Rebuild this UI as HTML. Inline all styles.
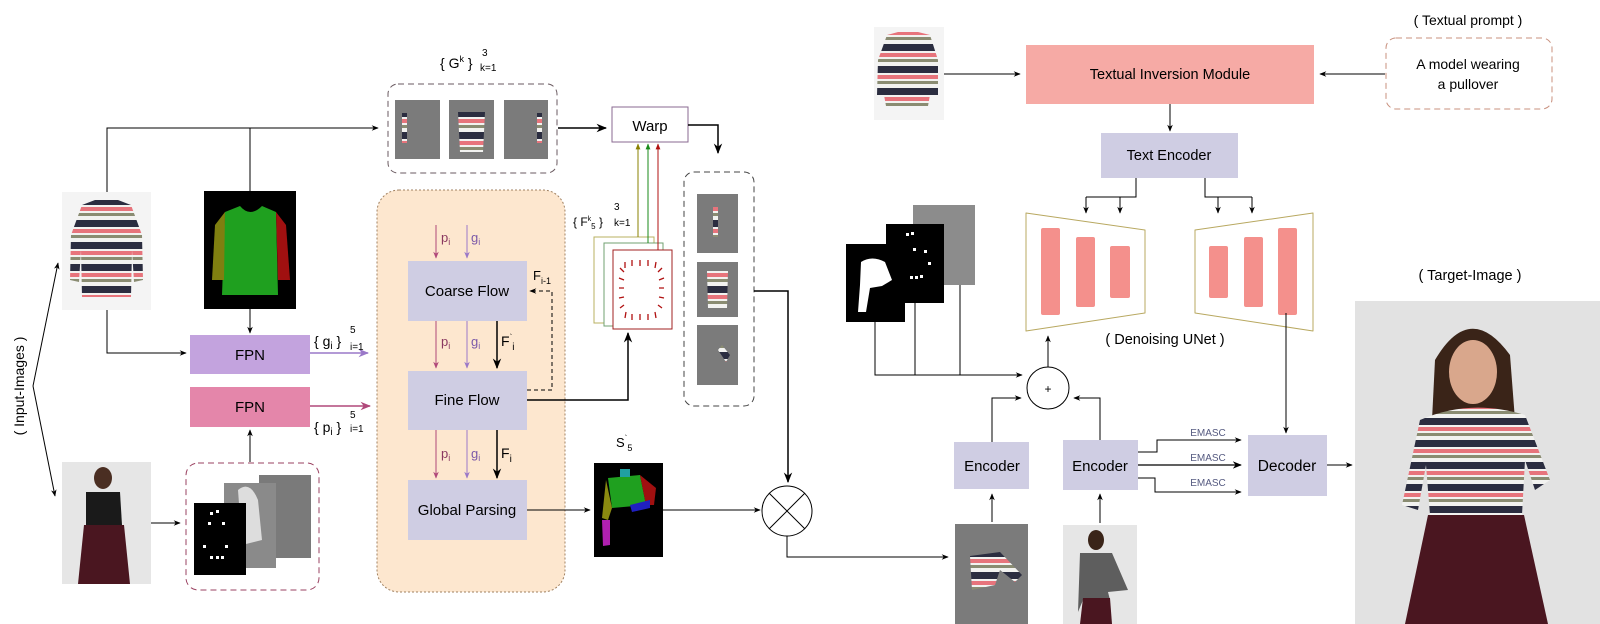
<!DOCTYPE html>
<html><head><meta charset="utf-8"><style>
body{margin:0;background:#fff;}
svg{display:block;font-family:"Liberation Sans",sans-serif;}
</style></head><body>
<svg width="1600" height="624" viewBox="0 0 1600 624" xmlns="http://www.w3.org/2000/svg">
<defs>
<marker id="a" viewBox="0 0 10 10" refX="9" refY="5" markerWidth="7" markerHeight="7" orient="auto"><path d="M0,1 L10,5 L0,9 L3,5z" fill="#000"/></marker>
<marker id="ap" viewBox="0 0 10 10" refX="9" refY="5" markerWidth="7" markerHeight="7" orient="auto"><path d="M0,1 L10,5 L0,9 L3,5z" fill="#9a78c8"/></marker>
<marker id="ak" viewBox="0 0 10 10" refX="9" refY="5" markerWidth="7" markerHeight="7" orient="auto"><path d="M0,1 L10,5 L0,9 L3,5z" fill="#b0487a"/></marker>
<marker id="ay" viewBox="0 0 10 10" refX="9" refY="5" markerWidth="6" markerHeight="6" orient="auto"><path d="M0,1 L10,5 L0,9z" fill="#8a8000"/></marker>
<marker id="ag" viewBox="0 0 10 10" refX="9" refY="5" markerWidth="6" markerHeight="6" orient="auto"><path d="M0,1 L10,5 L0,9z" fill="#1a8a1a"/></marker>
<marker id="ar" viewBox="0 0 10 10" refX="9" refY="5" markerWidth="6" markerHeight="6" orient="auto"><path d="M0,1 L10,5 L0,9z" fill="#b01010"/></marker>
<pattern id="st" patternUnits="userSpaceOnUse" width="10" height="22">
<rect width="10" height="22" fill="#f2f2f0"/><rect width="10" height="7" fill="#2b2d40"/><rect y="9" width="10" height="4" fill="#e7747c"/><rect y="15" width="10" height="3" fill="#8a8c72"/>
</pattern>
</defs>

<text transform="translate(24,386) rotate(-90)" text-anchor="middle" font-size="14">( Input-Images )</text>
<path d="M33,386 L58,263" stroke="#000" fill="none" marker-end="url(#a)"/>
<path d="M33,386 L55,496" stroke="#000" fill="none" marker-end="url(#a)"/>

<rect x="62" y="192" width="89" height="118" fill="#f4f4f4"/>
<path d="M82,205 L95,200 L118,200 L131,205 L142,235 L143,280 L134,282 L132,250 L131,297 L82,297 L81,250 L79,282 L70,280 L71,235z" fill="url(#st)"/>
<rect x="204" y="191" width="92" height="118" fill="#000"/>
<path d="M225,212 L240,206 Q250,218 262,206 L276,212 L278,295 L222,295z" fill="#1fa01f"/>
<path d="M225,212 L215,225 L212,280 L224,280z" fill="#7f7f10"/>
<path d="M276,212 L286,225 L290,280 L278,280z" fill="#a01010"/>
<rect x="62" y="462" width="89" height="122" fill="#e6e6e6"/>
<ellipse cx="103" cy="478" rx="9" ry="11" fill="#4a2e22"/>
<path d="M86,492 L120,492 L122,525 L86,525z" fill="#1a1a1a"/>
<path d="M84,525 L124,525 L130,584 L78,584z" fill="#4a1620"/>
<rect x="186" y="463" width="133" height="127" rx="12" fill="none" stroke="#9a4060" stroke-dasharray="6,4"/>
<rect x="259" y="475" width="52" height="83" fill="#7a7a7a"/>
<rect x="224" y="483" width="52" height="85" fill="#8a8a8a"/>
<path d="M238,490 Q250,480 258,500 L262,540 L242,545z" fill="#ddd"/>
<rect x="194" y="503" width="52" height="72" fill="#000"/>
<g fill="#fff"><rect x="210" y="512" width="3" height="3"/><rect x="216" y="510" width="3" height="3"/><rect x="208" y="522" width="3" height="3"/><rect x="222" y="522" width="3" height="3"/><rect x="203" y="545" width="3" height="3"/><rect x="225" y="545" width="3" height="3"/><rect x="210" y="556" width="3" height="3"/><rect x="216" y="556" width="3" height="3"/><rect x="221" y="556" width="3" height="3"/></g>

<rect x="190" y="335" width="120" height="39" fill="#c3a3de"/>
<text x="250" y="360" text-anchor="middle" font-size="15">FPN</text>
<rect x="190" y="387" width="120" height="40" fill="#e486aa"/>
<text x="250" y="412" text-anchor="middle" font-size="15">FPN</text>
<path d="M310,353 L368,353" stroke="#9a78c8" stroke-width="1.5" marker-end="url(#ap)"/>
<path d="M310,406 L370,406" stroke="#b0487a" stroke-width="1.5" marker-end="url(#ak)"/>
<text x="314" y="346" font-size="14">{ g<tspan font-size="10" dy="3">i</tspan><tspan dy="-3"> }</tspan></text>
<text x="350" y="333" font-size="10">5</text><text x="350" y="350" font-size="10">i=1</text>
<text x="314" y="432" font-size="14">{ p<tspan font-size="10" dy="3">i</tspan><tspan dy="-3"> }</tspan></text>
<text x="350" y="418" font-size="10">5</text><text x="350" y="432" font-size="10">i=1</text>

<path d="M107,192 L107,128 L378,128" stroke="#000" fill="none" marker-end="url(#a)"/>
<path d="M250,191 L250,128" stroke="#000" fill="none"/>
<path d="M107,310 L107,353 L186,353" stroke="#000" fill="none" marker-end="url(#a)"/>
<path d="M250,309 L250,333" stroke="#000" fill="none" marker-end="url(#a)"/>
<path d="M250,462 L250,430" stroke="#000" fill="none" marker-end="url(#a)"/>
<path d="M151,523 L180,523" stroke="#000" fill="none" marker-end="url(#a)"/>

<text x="440" y="68" font-size="14">{ G<tspan font-size="9" dy="-6">k</tspan><tspan dy="6"> }</tspan></text>
<text x="482" y="56" font-size="10">3</text><text x="480" y="71" font-size="10">k=1</text>
<rect x="388" y="84" width="169" height="89" rx="10" fill="none" stroke="#6a5a60" stroke-dasharray="6,4"/>
<rect x="395" y="100" width="45" height="59" fill="#7b7b7b"/>
<rect x="449" y="100" width="45" height="59" fill="#7b7b7b"/>
<rect x="504" y="100" width="44" height="59" fill="#7b7b7b"/>
<rect x="402" y="113" width="5" height="30" fill="url(#st)"/>
<path d="M458,112 L485,112 L483,152 L460,152z" fill="url(#st)"/>
<rect x="537" y="113" width="5" height="30" fill="url(#st)"/>
<path d="M558,128 L606,128" stroke="#000" stroke-width="1.5" marker-end="url(#a)"/>

<rect x="612" y="107" width="76" height="35" fill="#fff" stroke="#8a6a90"/>
<text x="650" y="131" text-anchor="middle" font-size="15">Warp</text>
<path d="M688,125 L718,125 L718,153" stroke="#000" stroke-width="1.5" fill="none" marker-end="url(#a)"/>

<rect x="377" y="190" width="188" height="402" rx="22" fill="#fde7cf" stroke="#a08060" stroke-dasharray="2,2"/>
<rect x="408" y="261" width="119" height="60" fill="#cfcde3"/>
<text x="467" y="296" text-anchor="middle" font-size="15">Coarse Flow</text>
<rect x="408" y="371" width="119" height="59" fill="#cfcde3"/>
<text x="467" y="405" text-anchor="middle" font-size="15">Fine Flow</text>
<rect x="408" y="480" width="119" height="60" fill="#cfcde3"/>
<text x="467" y="515" text-anchor="middle" font-size="15">Global Parsing</text>
<g font-size="13">
<path d="M436,225 L436,258" stroke="#b0487a" marker-end="url(#ak)"/><path d="M467,225 L467,258" stroke="#9a78c8" marker-end="url(#ap)"/>
<text x="441" y="242" fill="#8a3860">p<tspan font-size="9" dy="3">i</tspan></text><text x="471" y="242" fill="#7a58a8">g<tspan font-size="9" dy="3">i</tspan></text>
<path d="M436,321 L436,368" stroke="#b0487a" marker-end="url(#ak)"/><path d="M467,321 L467,368" stroke="#9a78c8" marker-end="url(#ap)"/>
<path d="M497,321 L497,368" stroke="#000" stroke-width="1.5" marker-end="url(#a)"/>
<text x="441" y="346" fill="#8a3860">p<tspan font-size="9" dy="3">i</tspan></text><text x="471" y="346" fill="#7a58a8">g<tspan font-size="9" dy="3">i</tspan></text>
<text x="501" y="346" font-size="14">F<tspan font-size="8" dy="-6">`</tspan><tspan font-size="10" dy="10">i</tspan></text>
<path d="M436,430 L436,478" stroke="#b0487a" marker-end="url(#ak)"/><path d="M467,430 L467,478" stroke="#9a78c8" marker-end="url(#ap)"/>
<path d="M497,430 L497,478" stroke="#000" stroke-width="1.5" marker-end="url(#a)"/>
<text x="441" y="458" fill="#8a3860">p<tspan font-size="9" dy="3">i</tspan></text><text x="471" y="458" fill="#7a58a8">g<tspan font-size="9" dy="3">i</tspan></text>
<text x="501" y="458" font-size="14">F<tspan font-size="10" dy="4">i</tspan></text>
</g>
<path d="M527,390 L552,390 L552,291 L530,291" stroke="#000" stroke-dasharray="4,3" fill="none" marker-end="url(#a)"/>
<text x="533" y="280" font-size="13">F<tspan font-size="9" dy="4">i-1</tspan></text>

<text x="573" y="226" font-size="12">{ F<tspan font-size="7" dy="-5">k</tspan><tspan font-size="8" dy="8">5</tspan><tspan dy="-3"> }</tspan></text>
<text x="614" y="210" font-size="10">3</text><text x="614" y="226" font-size="10">k=1</text>
<rect x="594" y="237" width="60" height="86" fill="#fff" stroke="#b8b060"/>
<rect x="604" y="243" width="59" height="83" fill="#fff" stroke="#70a070"/>
<rect x="613" y="250" width="59" height="79" fill="#fff" stroke="#a02020"/>
<g stroke="#b01010" stroke-width="1.3">
<path d="M625,262 l0,6 M632,260 l0,6 M640,260 l0,6 M648,260 l0,6 M656,262 l-1,6 M662,268 l-4,4 M664,278 l-5,2 M664,288 l-5,0 M664,298 l-5,-1 M662,308 l-4,-3 M656,318 l-1,-6 M648,320 l0,-6 M640,320 l0,-6 M632,320 l0,-6 M625,318 l1,-6 M620,308 l4,-3 M619,298 l5,-1 M619,288 l5,0 M619,278 l5,2 M620,268 l4,4"/>
</g>
<path d="M638,237 L638,144" stroke="#8a8000" marker-end="url(#ay)"/>
<path d="M648,243 L648,144" stroke="#1a8a1a" marker-end="url(#ag)"/>
<path d="M658,250 L658,144" stroke="#b01010" marker-end="url(#ar)"/>
<path d="M527,400 L628,400 L628,333" stroke="#000" stroke-width="1.5" fill="none" marker-end="url(#a)"/>

<rect x="684" y="172" width="70" height="234" rx="10" fill="none" stroke="#444" stroke-dasharray="6,4"/>
<rect x="697" y="194" width="41" height="59" fill="#7b7b7b"/><rect x="713" y="207" width="5" height="30" fill="url(#st)"/>
<rect x="697" y="262" width="41" height="55" fill="#7b7b7b"/><path d="M707,271 L728,271 L727,308 L708,308z" fill="url(#st)"/>
<rect x="697" y="325" width="41" height="60" fill="#7b7b7b"/><path d="M722,345 L730,355 L726,362 L718,350z" fill="url(#st)"/>
<path d="M754,291 L788,291 L788,482" stroke="#000" stroke-width="1.5" fill="none" marker-end="url(#a)"/>

<text x="616" y="447" font-size="13">S<tspan font-size="8" dy="-6">`</tspan><tspan font-size="9" dy="10">5</tspan></text>
<rect x="594" y="463" width="69" height="94" fill="#000"/>
<path d="M608,478 L640,475 L646,505 L612,508z" fill="#1fa01f"/>
<rect x="620" y="469" width="10" height="8" fill="#20a0a0"/>
<path d="M640,475 L656,488 L654,505 L646,505z" fill="#a01010"/>
<path d="M606,480 L612,508 L608,520 L602,518z" fill="#8a8a10"/>
<path d="M602,520 L610,520 L610,545 L603,546z" fill="#b020b0"/>
<path d="M630,505 L650,500 L650,508 L632,512z" fill="#2020c0"/>
<path d="M527,510 L590,510" stroke="#000" marker-end="url(#a)"/>
<path d="M663,510 L760,510" stroke="#000" marker-end="url(#a)"/>
<circle cx="787" cy="511" r="25" fill="#fff" stroke="#000"/>
<path d="M769,493 L805,529 M805,493 L769,529" stroke="#000"/>
<path d="M787,536 L787,557 L948,557" stroke="#000" fill="none" marker-end="url(#a)"/>

<rect x="874" y="27" width="70" height="93" fill="#f4f4f4"/>
<path d="M887,35 L898,32 L918,32 L930,35 L938,60 L938,95 L930,95 L928,106 L886,106 L884,95 L877,95 L878,60z" fill="url(#st)"/>
<path d="M944,74 L1020,74" stroke="#000" marker-end="url(#a)"/>
<rect x="1026" y="45" width="288" height="59" fill="#f6aaa5"/>
<text x="1170" y="79" text-anchor="middle" font-size="14.5">Textual Inversion Module</text>
<text x="1468" y="25" text-anchor="middle" font-size="14">( Textual prompt )</text>
<rect x="1386" y="38" width="166" height="71" rx="10" fill="none" stroke="#c8907e" stroke-dasharray="6,4"/>
<text x="1468" y="69" text-anchor="middle" font-size="14">A model wearing</text>
<text x="1468" y="89" text-anchor="middle" font-size="14">a pullover</text>
<path d="M1385,74 L1320,74" stroke="#000" marker-end="url(#a)"/>
<path d="M1170,104 L1170,131" stroke="#000" marker-end="url(#a)"/>
<rect x="1101" y="133" width="137" height="45" fill="#cfcde3"/>
<text x="1169" y="160" text-anchor="middle" font-size="14.5">Text Encoder</text>
<path d="M1136,178 L1136,197 L1086,197 M1120,197 L1120,200" stroke="#000" fill="none"/>
<path d="M1086,197 L1086,213" stroke="#000" marker-end="url(#a)"/><path d="M1120,197 L1120,213" stroke="#000" marker-end="url(#a)"/>
<path d="M1205,178 L1205,197 L1252,197" stroke="#000" fill="none"/>
<path d="M1218,197 L1218,213" stroke="#000" marker-end="url(#a)"/><path d="M1252,197 L1252,213" stroke="#000" marker-end="url(#a)"/>
<path d="M1026,213 L1145,230 L1145,313 L1026,331z" fill="#fff" stroke="#b8a860" stroke-linejoin="round"/>
<path d="M1195,230 L1313,213 L1313,331 L1195,313z" fill="#fff" stroke="#b8a860" stroke-linejoin="round"/>
<g fill="#f4908c">
<rect x="1041" y="228" width="19" height="87" rx="2"/><rect x="1076" y="237" width="19" height="70" rx="2"/><rect x="1110" y="246" width="20" height="52" rx="2"/>
<rect x="1209" y="246" width="19" height="52" rx="2"/><rect x="1244" y="237" width="19" height="70" rx="2"/><rect x="1278" y="228" width="19" height="87" rx="2"/>
</g>
<text x="1165" y="344" text-anchor="middle" font-size="14.5">( Denoising UNet )</text>
<path d="M1286,313 L1286,433" stroke="#000" marker-end="url(#a)"/>

<rect x="913" y="205" width="62" height="80" fill="#8c8c8c"/>
<rect x="886" y="224" width="58" height="79" fill="#000"/>
<g fill="#fff"><rect x="906" y="233" width="3" height="3"/><rect x="911" y="232" width="3" height="3"/><rect x="913" y="248" width="3" height="3"/><rect x="924" y="250" width="3" height="3"/><rect x="928" y="262" width="3" height="3"/><rect x="910" y="276" width="3" height="3"/><rect x="915" y="276" width="3" height="3"/><rect x="920" y="275" width="3" height="3"/></g>
<rect x="846" y="244" width="59" height="78" fill="#000"/>
<path d="M861,262 Q872,255 885,262 L892,280 L882,286 L870,288 L866,312 L858,312 L860,285z" fill="#fff"/>
<path d="M875,322 L875,375 L1000,375 M915,303 L915,375 M960,285 L960,375" stroke="#000" fill="none"/>
<path d="M1000,375 L1022,375" stroke="#000" marker-end="url(#a)"/>
<circle cx="1048" cy="388" r="21" fill="#fff" stroke="#000"/>
<text x="1048" y="393" text-anchor="middle" font-size="12">+</text>
<path d="M1048,367 L1048,336" stroke="#000" marker-end="url(#a)"/>
<path d="M992,442 L992,398 L1021,398" stroke="#000" fill="none" marker-end="url(#a)"/>
<path d="M1100,440 L1100,398 L1074,398" stroke="#000" fill="none" marker-end="url(#a)"/>

<rect x="954" y="442" width="75" height="47" fill="#cfcde3"/>
<text x="992" y="471" text-anchor="middle" font-size="15">Encoder</text>
<rect x="1063" y="440" width="75" height="50" fill="#cfcde3"/>
<text x="1100" y="471" text-anchor="middle" font-size="15">Encoder</text>
<rect x="1248" y="435" width="79" height="61" fill="#cfcde3"/>
<text x="1287" y="471" text-anchor="middle" font-size="15.5">Decoder</text>
<g font-size="10" fill="#555a80" text-anchor="middle"><text x="1208" y="436">EMASC</text><text x="1208" y="461">EMASC</text><text x="1208" y="486">EMASC</text></g>
<path d="M1138,452 L1157,452 L1157,440 L1241,440" stroke="#000" fill="none" marker-end="url(#a)"/>
<path d="M1138,465 L1241,465" stroke="#000" stroke-width="1.3" marker-end="url(#a)"/>
<path d="M1138,478 L1155,478 L1155,492 L1241,492" stroke="#000" fill="none" marker-end="url(#a)"/>
<path d="M1327,465 L1352,465" stroke="#000" marker-end="url(#a)"/>

<rect x="955" y="524" width="73" height="100" fill="#7b7b7b"/>
<path d="M970,556 L1000,552 L1022,575 L1015,582 L1000,570 L995,585 L972,590z" fill="url(#st)"/>
<path d="M992,522 L992,494" stroke="#000" marker-end="url(#a)"/>
<rect x="1063" y="525" width="74" height="99" fill="#e6e6e6"/>
<ellipse cx="1096" cy="540" rx="8" ry="10" fill="#3a2418"/>
<path d="M1080,553 L1112,553 L1128,590 L1108,592 L1110,600 L1083,600 L1078,612z" fill="#5e5e5e"/>
<path d="M1083,598 L1110,598 L1112,624 L1080,624z" fill="#4a1620"/>
<path d="M1100,523 L1100,494" stroke="#000" marker-end="url(#a)"/>

<text x="1470" y="280" text-anchor="middle" font-size="14.5">( Target-Image )</text>
<rect x="1355" y="301" width="245" height="323" fill="#e2e2e2"/>
<path d="M1435,360 Q1470,300 1510,355 L1515,420 L1432,420z" fill="#3a2418"/>
<ellipse cx="1473" cy="372" rx="24" ry="32" fill="#d9a78c"/>
<path d="M1420,420 Q1470,398 1525,415 L1550,480 L1535,490 L1525,460 L1522,515 L1430,515 L1426,465 L1418,510 L1402,505z" fill="url(#st)"/>
<path d="M1428,515 L1524,515 L1548,624 L1405,624z" fill="#4a1620"/>
</svg>
</body></html>
